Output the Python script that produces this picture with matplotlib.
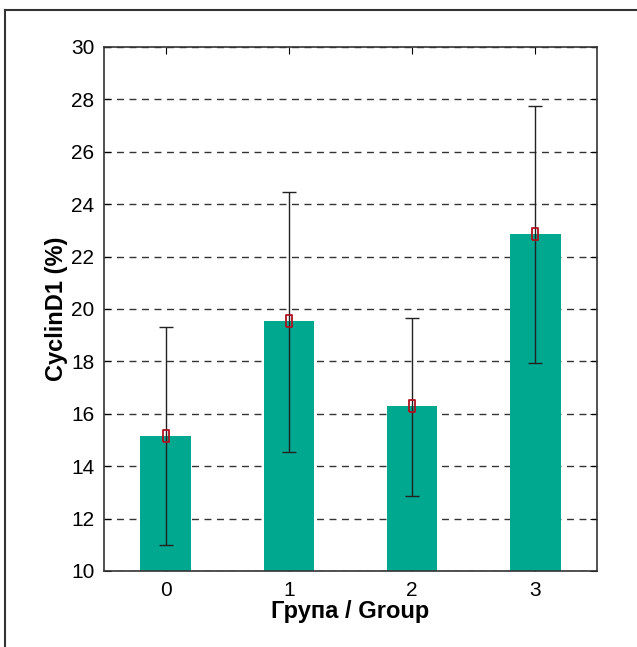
import matplotlib
matplotlib.use('Agg')
import matplotlib.pyplot as plt
from matplotlib.lines import Line2D

plt.rcParams['font.family'] = ['Liberation Sans Narrow', 'Liberation Sans', 'DejaVu Sans']

groups = [0, 1, 2, 3]
means = [15.15, 19.55, 16.3, 22.85]
err_low = [11.0, 14.55, 12.85, 17.95]
err_high = [19.3, 24.45, 19.65, 27.75]

lower = [m - lo for m, lo in zip(means, err_low)]
upper = [hi - m for m, hi in zip(means, err_high)]

# tall narrow rectangle for the mean marker
rect = [(-0.55, -1), (0.55, -1), (0.55, 1), (-0.55, 1), (-0.55, -1)]

fig = plt.figure(figsize=(6.37, 6.47), dpi=100)
ax = fig.add_axes([104/637, 76/647, 493/637, 524/647])

ax.bar(groups, means, width=0.41, color='#00a88f', zorder=2)
ax.errorbar(groups, means, yerr=[lower, upper], fmt='none',
            ecolor='#222222', elinewidth=1, capsize=5, capthick=1, zorder=3)
ax.plot(groups, means, linestyle='none', marker=rect, mfc='none', mec='#b01020',
        ms=9, mew=1.3, zorder=4)

ax.set_xlim(-0.5, 3.5)
ax.set_ylim(10, 30)
ax.set_xticks(groups)
ax.set_yticks(range(10, 31, 2))
ax.yaxis.grid(True, linestyle=(0, (5, 4)), color='#333333', linewidth=1, zorder=1)
ax.set_axisbelow(True)
ax.tick_params(direction='in', top=True, right=True, labelsize=15, length=5, pad=7)
for s in ax.spines.values():
    s.set_color('#333333')
    s.set_linewidth(1.2)

ax.set_xlabel('Група / Group', fontsize=17, fontweight='bold', labelpad=0)
ax.set_ylabel('CyclinD1 (%)', fontsize=17, fontweight='bold', labelpad=2)

# outer frame (top and left edges)
fig.add_artist(Line2D([5/637, 1], [1 - 10/647, 1 - 10/647], transform=fig.transFigure, color='#333333', lw=1.5))
fig.add_artist(Line2D([5/637, 5/637], [0, 1 - 10/647], transform=fig.transFigure, color='#333333', lw=1.5))

fig.savefig('out.png', dpi=100)
